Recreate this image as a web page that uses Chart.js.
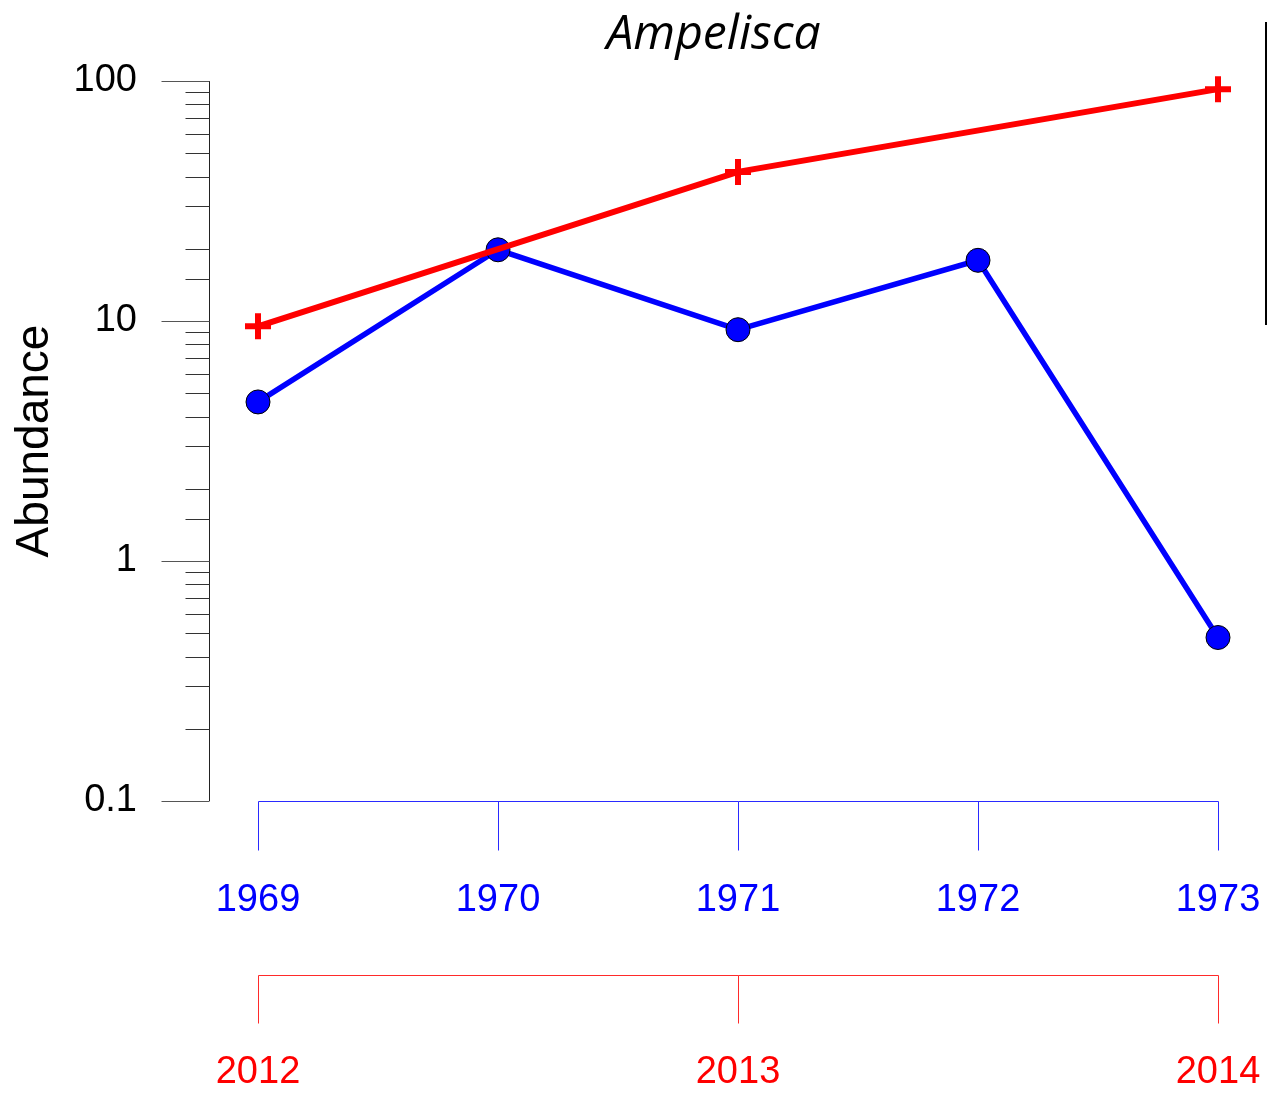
<!DOCTYPE html>
<html>
<head>
<meta charset="utf-8">
<script src="https://cdn.jsdelivr.net/npm/chart.js@4"></script>
<style>
  body { margin: 0; background: #fff; }
  canvas { display: block; }
</style>
</head>
<body>
<canvas id="my-chart" width="1268" height="1096"></canvas>
<script>
// data
const blueYears = [1969, 1970, 1971, 1972, 1973];
const blueValues = [4.6, 19.8, 9.2, 17.9, 0.48];
const redYears = [2012, 2013, 2014];
const redValues = [9.5, 41.8, 92.5];
const yLabels = [0.1, 1, 10, 100];

const fontName = '"Liberation Sans", Arial, sans-serif';

// draws a bracket-like year axis: line across the ticks, tick marks hanging down
function yearAxis(ctx, scale, years, top, len, color) {
    const y0 = Math.round(top) + 0.5;
    const px = years.map(v => Math.round(scale.getPixelForValue(v)) + 0.5);
    ctx.strokeStyle = color;
    ctx.beginPath();
    ctx.moveTo(px[0], y0);
    ctx.lineTo(px[px.length - 1], y0);
    px.forEach(p => {
        ctx.moveTo(p, y0);
        ctx.lineTo(p, y0 + len);
    });
    ctx.stroke();
}

// axis lines, y ticks and the stray line at the right edge
const axesPlugin = {
    id: 'axes',
    beforeDatasetsDraw(chart) {
        const ctx = chart.ctx;
        const y = chart.scales.y;
        const left = Math.round(chart.chartArea.left) + 0.5;
        ctx.save();
        ctx.lineWidth = 1;

        // y axis
        ctx.strokeStyle = '#222';
        ctx.beginPath();
        ctx.moveTo(left, y.getPixelForValue(100));
        ctx.lineTo(left, y.getPixelForValue(0.1));
        ctx.stroke();
        y.ticks.forEach(t => {
            const py = Math.round(y.getPixelForValue(t.value)) + 0.5;
            const major = yLabels.includes(t.value);
            ctx.strokeStyle = major ? '#555' : '#333';
            ctx.beginPath();
            ctx.moveTo(left - (major ? 48 : 24), py);
            ctx.lineTo(left, py);
            ctx.stroke();
        });

        yearAxis(ctx, chart.scales.x, blueYears, chart.chartArea.bottom, 49, '#2a2aff');
        yearAxis(ctx, chart.scales.x2, redYears, chart.scales.x2.top, 48, '#ff2a2a');

        // leftover line at the right edge
        ctx.strokeStyle = '#000';
        ctx.lineWidth = 2;
        ctx.beginPath();
        ctx.moveTo(1266, 22);
        ctx.lineTo(1266, 325);
        ctx.stroke();
        ctx.restore();
    }
};

// keep Chart.js from adding label overhang to the layout
function noPad(s) {
    s.paddingLeft = 0;
    s.paddingRight = 0;
    s.paddingTop = 0;
    s.paddingBottom = 0;
}

const ctx = document.getElementById('my-chart').getContext('2d');

const chart = new Chart(ctx, {
    type: 'line',
    data: {
        datasets: [{
            label: 'red',
            xAxisID: 'x2',
            data: redYears.map((yr, i) => ({ x: yr, y: redValues[i] })),
            borderColor: '#ff0000',
            backgroundColor: '#ff0000',
            borderWidth: 6,
            pointStyle: 'cross',
            pointRadius: 13,
            pointBorderWidth: 6,
            pointBorderColor: '#ff0000',
            clip: false
        }, {
            label: 'blue',
            xAxisID: 'x',
            data: blueYears.map((yr, i) => ({ x: yr, y: blueValues[i] })),
            borderColor: '#0000ff',
            backgroundColor: '#0000ff',
            borderWidth: 5.5,
            pointStyle: 'circle',
            pointRadius: 12,
            pointBorderWidth: 1,
            pointBorderColor: '#000',
            pointBackgroundColor: '#0000ff',
            clip: false
        }]
    },
    options: {
        responsive: false,
        animation: false,
        layout: { padding: { left: 0, right: 50, top: 0, bottom: 0 } },
        plugins: {
            legend: { display: false },
            tooltip: { enabled: false },
            title: {
                display: true,
                text: 'Ampelisca',
                fullSize: false,
                color: '#000',
                font: { family: '"Open Sans", sans-serif', size: 48, style: 'italic', weight: 'normal', lineHeight: 1.2 },
                padding: { top: 6.2, bottom: 17.2 }
            }
        },
        scales: {
            y: {
                type: 'logarithmic',
                position: 'left',
                min: 0.1,
                max: 100,
                grid: { display: false, drawTicks: false },
                border: { display: false },
                ticks: {
                    autoSkip: false,
                    padding: 72,
                    color: '#000',
                    font: { family: fontName, size: 38 },
                    callback: v => yLabels.includes(v) ? String(v) : ''
                },
                title: {
                    display: true,
                    text: 'Abundance',
                    color: '#000',
                    font: { family: fontName, size: 46 },
                    padding: { top: 8, bottom: 0 }
                },
                afterFit: s => { s.width = 209; noPad(s); }
            },
            x: {
                type: 'linear',
                position: 'bottom',
                min: blueYears[0] - 49 / 240,
                max: blueYears[blueYears.length - 1],
                afterBuildTicks: s => { s.ticks = blueYears.map(v => ({ value: v })); },
                grid: { display: false, drawTicks: true, tickLength: 49 },
                border: { display: false },
                ticks: {
                    padding: 28,
                    maxRotation: 0,
                    color: '#0000ff',
                    font: { family: fontName, size: 38 },
                    callback: v => String(v)
                },
                afterFit: s => { s.height = 174; noPad(s); }
            },
            x2: {
                type: 'linear',
                position: 'bottom',
                min: redYears[0] - 49 / 480,
                max: redYears[redYears.length - 1],
                afterBuildTicks: s => { s.ticks = redYears.map(v => ({ value: v })); },
                grid: { display: false, drawTicks: true, tickLength: 48 },
                border: { display: false },
                ticks: {
                    padding: 27,
                    maxRotation: 0,
                    color: '#ff0000',
                    font: { family: fontName, size: 38 },
                    callback: v => String(v)
                },
                afterFit: s => { s.height = 121; noPad(s); }
            }
        }
    },
    plugins: [axesPlugin]
});
</script>
</body>
</html>
